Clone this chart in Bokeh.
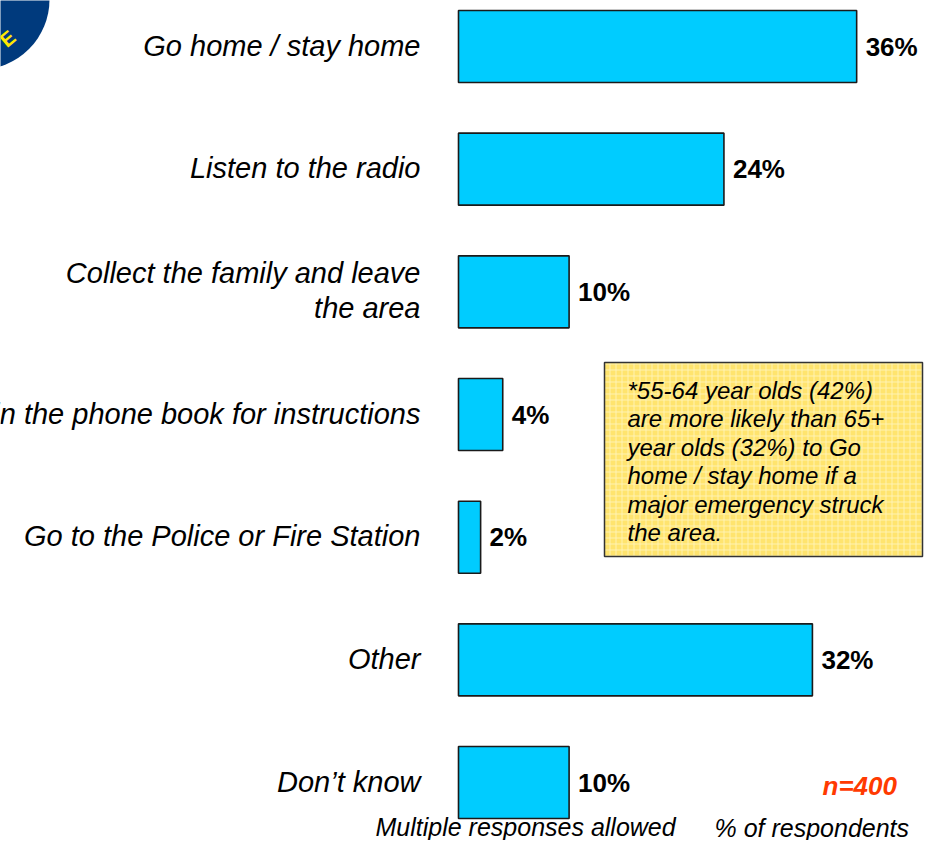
from bokeh.plotting import figure
from bokeh.models import Range1d
from bokeh.core.properties import value
from bokeh.embed import file_html
from bokeh.resources import INLINE

# ---- data ----
categories = [
    "Go home / stay home",
    "Listen to the radio",
    "Collect the family and leave\nthe area",
    "Look in the phone book for instructions",
    "Go to the Police or Fire Station",
    "Other",
    "Don\u2019t know",
]
values = [36, 24, 10, 4, 2, 32, 10]
value_labels = [f"{v}%" for v in values]
note_lines = [
    "*55-64 year olds (42%)",
    "are more likely than 65+",
    "year olds (32%) to Go",
    "home / stay home if a",
    "major emergency struck",
    "the area.",
]
sample_text = "n=400"
footer_left = "Multiple responses allowed"
footer_right = "% of respondents"

# ---- layout (reference pixel geometry) ----
W, H = 924, 840
PX_PER_PCT = 11.06
X0_REF = 458
ROW_PX = 122.67
Y0_REF = 46


def dx(ref_x):
    return (ref_x - X0_REF) / PX_PER_PCT


def dy(ref_y):
    return (ref_y - Y0_REF) / ROW_PX


FONT = "Liberation Sans"

p = figure(
    width=W, height=H, output_backend="svg", toolbar_location=None,
    x_range=Range1d(dx(0), dx(W)),
    y_range=Range1d(dy(H), dy(0)),
    min_border=0, outline_line_color=None,
)
p.axis.visible = False
p.grid.visible = False
p.background_fill_color = "white"

idx = list(range(len(categories)))

# badge (decoration, top-left)
p.scatter(x=[dx(-21)], y=[dy(-1)], size=140, marker="circle",
          fill_color="#003A7D", line_color=None)
p.text(x=[dx(7)], y=[dy(38)], text=["E"], angle=0.7,
       text_color="#FFE800", text_font=value(FONT), text_font_style="bold",
       text_font_size="20px", text_align="center", text_baseline="middle")

# bars
p.hbar(y=idx, left=0, right=values, height=72 / ROW_PX,
       fill_color="#00CCFF", line_color="#1a1a1a", line_width=1.6)

# value labels
p.text(x=values, y=idx, text=value_labels, x_offset=9,
       text_font=value(FONT), text_font_style="bold", text_font_size="26px",
       text_color="black", text_align="left", text_baseline="middle")

# category labels
p.text(x=[0] * len(idx), y=idx, text=categories, x_offset=-38, y_offset=-1,
       text_font=value(FONT), text_font_style="italic", text_font_size="29px",
       text_color="black", text_align="right", text_baseline="middle",
       text_line_height=1.1)

# note box
p.quad(left=[dx(604)], right=[dx(922)], top=[dy(362)], bottom=[dy(556)],
       fill_color="#FFE46E", line_color="#333333", line_width=1.5,
       hatch_pattern="+", hatch_color="#FFF4B8", hatch_scale=6,
       hatch_weight=1, hatch_alpha=0.9)
p.text(x=[dx(627)] * len(note_lines),
       y=[dy(390 + 28.4 * k) for k in range(len(note_lines))],
       text=note_lines, text_font=value(FONT), text_font_style="italic",
       text_font_size="24px", text_color="black", text_align="left",
       text_baseline="middle")

# sample size + footers
p.text(x=[dx(822)], y=[dy(785)], text=[sample_text],
       text_font=value(FONT), text_font_style="bold italic",
       text_font_size="26px", text_color="#FF3A00",
       text_align="left", text_baseline="middle")
p.text(x=[dx(375)], y=[dy(826)], text=[footer_left],
       text_font=value(FONT), text_font_style="italic", text_font_size="25px",
       text_color="black", text_align="left", text_baseline="middle")
p.text(x=[dx(714)], y=[dy(827)], text=[footer_right],
       text_font=value(FONT), text_font_style="italic", text_font_size="25px",
       text_color="black", text_align="left", text_baseline="middle")

open("out.html", "w").write(file_html(p, INLINE))
